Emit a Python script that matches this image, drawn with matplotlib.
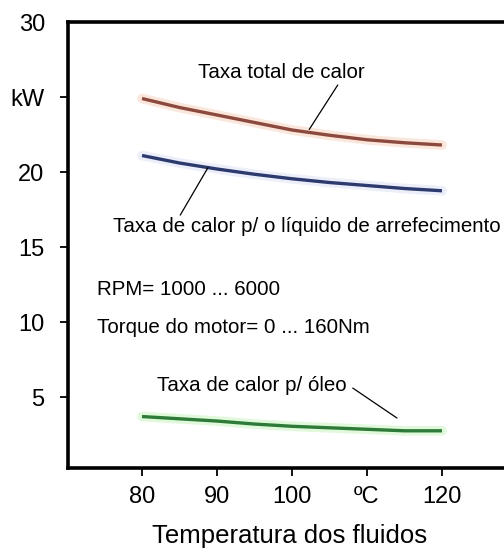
import numpy as np
import matplotlib
matplotlib.use("Agg")
import matplotlib.pyplot as plt

plt.rcParams['font.family'] = ['Liberation Sans', 'DejaVu Sans']

# Fluid temperature (°C) and heat rejection rates (kW)
temperature = [80, 85, 90, 95, 100, 105, 110, 115, 120]
total_heat = [24.9, 24.3, 23.8, 23.3, 22.8, 22.45, 22.15, 21.95, 21.8]
coolant_heat = [21.1, 20.6, 20.2, 19.85, 19.55, 19.3, 19.1, 18.9, 18.75]
oil_heat = [3.7, 3.55, 3.4, 3.2, 3.05, 2.95, 2.85, 2.75, 2.75]

x_ticks = [80, 90, 100, 110, 120]
x_tick_labels = ['80', '90', '100', 'ºC', '120']
y_ticks = [5, 10, 15, 20, 25]
y_tick_labels = ['5', '10', '15', '20', 'kW']

fig = plt.figure(figsize=(5.04, 5.49), dpi=100)
ax = fig.add_axes([68 / 504, 1 - 468 / 549, 1 - 68 / 504, (468 - 22) / 549])

# soft halo under each curve, then the curve itself
series = [
    (total_heat, '#f4b89a', '#8c4a3e'),
    (coolant_heat, '#c9d3f0', '#2d3a6e'),
    (oil_heat, '#a8ee9a', '#2e7a38'),
]
for values, halo, core in series:
    ax.plot(temperature, values, color=halo, lw=7, alpha=0.35,
            solid_capstyle='round', zorder=2)
    ax.plot(temperature, values, color=core, lw=2.4,
            solid_capstyle='butt', zorder=3)

ax.set_xlim(70.13, 128.27)
ax.set_ylim(0.27, 30)

ax.set_xticks(x_ticks)
ax.set_xticklabels(x_tick_labels)
ax.set_yticks(y_ticks)
ax.set_yticklabels(y_tick_labels)
ax.tick_params(axis='both', direction='out', length=6, width=1.3,
               labelsize=17, colors='black')
ax.tick_params(axis='x', pad=7)
ax.tick_params(axis='y', pad=11)

for side in ('left', 'bottom', 'top'):
    ax.spines[side].set_linewidth(2.6)
    ax.spines[side].set_color('black')
ax.spines['right'].set_visible(False)

# top value of the scale, sitting beside the top frame line
ax.text(-0.053, 29.8, '30', transform=ax.get_yaxis_transform(),
        ha='right', va='center', fontsize=17, clip_on=False)

# curve labels with leader lines
lead = dict(arrowprops=dict(arrowstyle='-', color='black', lw=0.9,
                            shrinkA=0, shrinkB=0))
ax.text(87.47, 26.29, 'Taxa total de calor', fontsize=14.8,
        ha='left', va='baseline')
ax.annotate('', xy=(102.3, np.interp(102.3, temperature, total_heat) + 0.2),
            xytext=(106.1, 25.8), **lead)

ax.text(76.13, 16.02, 'Taxa de calor p/ o líquido de arrefecimento',
        fontsize=14.8, ha='left', va='baseline', clip_on=False)
ax.annotate('', xy=(88.8, np.interp(88.8, temperature, coolant_heat)),
            xytext=(85.1, 17.13), **lead)

ax.text(81.96, 5.42, 'Taxa de calor p/ óleo', fontsize=14.8,
        ha='left', va='baseline')
ax.annotate('', xy=(114.0, 3.6), xytext=(108.1, 5.6), **lead)

ax.text(73.94, 11.8, 'RPM= 1000 ... 6000', fontsize=14.8,
        ha='left', va='baseline')
ax.text(73.94, 9.29, 'Torque do motor= 0 ... 160Nm', fontsize=14.8,
        ha='left', va='baseline')

fig.text(290 / 504, 1 - 543 / 549, 'Temperatura dos fluidos',
         fontsize=18.5, ha='center', va='baseline')

fig.savefig('out.png', dpi=100, facecolor='white')
